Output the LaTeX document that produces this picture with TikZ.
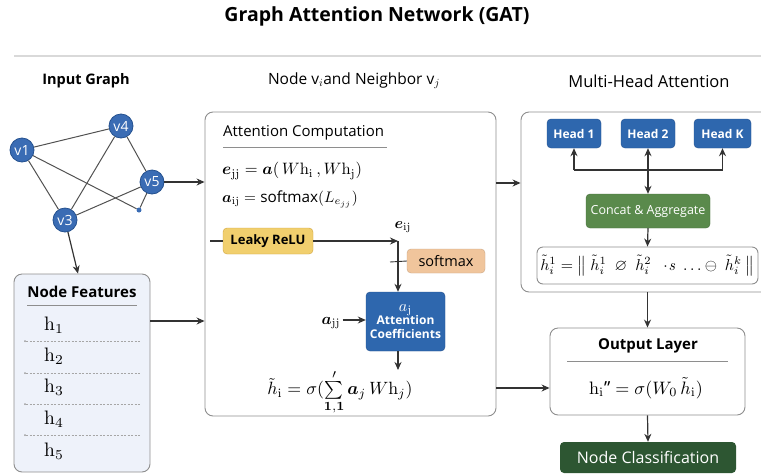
\documentclass[tikz,border=0pt]{standalone}
\usepackage{amsmath,amssymb}
\usepackage[no-math]{fontspec}
\setmainfont{Open Sans}
\usetikzlibrary{arrows.meta}

\definecolor{edge}{HTML}{333333}
\definecolor{frame}{HTML}{8E8E8E}
\definecolor{nodeblue}{HTML}{3A6CB4}
\definecolor{nodeborder}{HTML}{24518F}
\definecolor{headblue}{HTML}{2E67AE}
\definecolor{concatgreen}{HTML}{5A8A4C}
\definecolor{classgreen}{HTML}{2D5632}
\definecolor{leaky}{HTML}{F1CF6E}
\definecolor{leakyborder}{HTML}{D1A43C}
\definecolor{softfill}{HTML}{F0C59C}
\definecolor{featfill}{HTML}{EEF2FA}

% formulas are set at 10pt and enlarged as a whole
\newcommand{\bigmath}[2]{\scalebox{#1}{$#2$}}

\tikzset{
  arr/.style={draw=edge, line width=1.2pt, -{Stealth[length=8pt,width=7pt]}},
  wire/.style={draw=edge, line width=1.2pt},
  gedge/.style={draw=edge!85, line width=1pt},
  gnode/.style={circle, fill=nodeblue, draw=nodeborder, line width=0.8pt,
    minimum size=24pt, inner sep=0pt, text=white,
    font=\fontsize{14}{14}\selectfont},
  panel/.style={draw=frame, line width=0.9pt, rounded corners=8pt, fill=white},
  bluebox/.style={fill=headblue, draw=nodeborder, rounded corners=4pt,
    text=white, inner sep=0pt},
  header/.style={font=\fontsize{15.5}{17}\selectfont},
  mathtext/.style={font=\fontsize{10}{12}\selectfont, inner sep=0pt},
  feat/.style={font=\fontsize{10}{12}\selectfont, anchor=west, inner sep=0pt},
}

\begin{document}
\begin{tikzpicture}[x=1pt, y=-1pt]
\useasboundingbox (0,0) rectangle (761,475);
\clip (0,0) rectangle (761,475);

% title and rule
\node[font=\fontsize{19.5}{22}\selectfont\bfseries] (title) at (377,16) {Graph Attention Network (GAT)};
\draw[black!15, line width=1.6pt] (14,56) -- (761,56);

% column headers
\node[font=\fontsize{14.5}{16}\selectfont\bfseries] (hdrA) at (86,81) {Input Graph};
\node[header] (hdrB) at (354,81) {Node v$_{i}$and Neighbor v$_{j}$};
\node[header, font=\fontsize{16.5}{18}\selectfont] (hdrC) at (649,81) {Multi-Head Attention};

% ---------------- input graph ----------------
\node[gnode] (v1) at (22,150) {v1};
\node[gnode] (v4) at (121,126) {v4};
\node[gnode] (v5) at (152,182) {v5};
\node[gnode] (v3) at (65,220) {v3};
\node[circle, fill=nodeblue, inner sep=0pt, minimum size=5pt] (dot) at (139,210) {};
\draw[gedge] (v1) -- (v4);
\draw[gedge] (v1) -- (v3);
\draw[gedge] (v1) -- (dot);
\draw[gedge] (v4) -- (v3);
\draw[gedge] (v4) -- (v5);
\draw[gedge] (v5) -- (v3);
\draw[gedge] (v5) -- (dot);

% ---------------- node features ----------------
\node[panel, fill=featfill, minimum width=136pt, minimum height=198pt] (feat) at (82,373) {};
\node[font=\fontsize{15}{16}\selectfont\bfseries] (featT) at (82,292) {Node Features};
\draw[frame, line width=0.8pt] (27,305) -- (137,305);
\node[feat] (h1) at (44,325) {\bigmath{1.95}{\mathrm{h}_1}};
\node[feat] (h2) at (44,356) {\bigmath{1.95}{\mathrm{h}_2}};
\node[feat] (h3) at (44,387) {\bigmath{1.95}{\mathrm{h}_3}};
\node[feat] (h4) at (44,419) {\bigmath{1.95}{\mathrm{h}_4}};
\node[feat] (h5) at (44,451) {\bigmath{1.95}{\mathrm{h}_5}};
\foreach \yy in {341,373,404,435}{
  \fill[black!40] (25,\yy) circle (1pt);
  \draw[black!35, line width=0.6pt, dash pattern=on 2pt off 1.5pt] (26,\yy) -- (140,\yy);
}

\draw[arr] (v3) -- ([xshift=-4pt]feat.north);

% ---------------- attention computation ----------------
\node[panel, minimum width=291pt, minimum height=304pt] (mid) at (350.5,264) {};
\node[font=\fontsize{15}{17}\selectfont, anchor=west, inner sep=0pt] (attT) at (223,133) {Attention Computation};
\draw[frame, line width=0.9pt] (223,147) -- (387,147);
\node[mathtext, anchor=west] (eq1) at (222,171)
  {\bigmath{1.65}{\boldsymbol{e}_{\mathrm{jj}} = \boldsymbol{a}(\,W\mathrm{h}_{\mathrm{i}}\,, W\mathrm{h}_{\mathrm{j}})}};
\node[mathtext, anchor=west] (eq2) at (222,199)
  {\bigmath{1.53}{\boldsymbol{a}_{\mathrm{ij}} = \text{softmax}(L_{e_{jj}})}};

\node[fill=leaky, draw=leakyborder, rounded corners=4pt, minimum width=90pt, minimum height=26pt,
  inner sep=0pt, font=\fontsize{13}{15}\selectfont\bfseries] (relu) at (268,241) {Leaky ReLU};
\node[fill=softfill, draw=softfill!85!black, rounded corners=4pt, minimum width=78pt, minimum height=24pt,
  inner sep=0pt, font=\fontsize{14.5}{16}\selectfont] (soft) at (446,261) {softmax};
\node[bluebox, minimum width=79pt, minimum height=59pt, align=center,
  font=\fontsize{12}{14}\selectfont\bfseries] (coef) at (405.5,321.5)
  {\normalfont\fontsize{10}{12}\selectfont\bigmath{1.6}{a_{\mathrm{j}}}\\[-1pt]Attention\\Coefficients};

\coordinate (inL) at (210,241);
\coordinate (corner) at (398,241);
\coordinate (tick) at (390,262);
\draw[wire] (inL) -- (relu.west);
\draw[arr] (relu.east) -- (corner);
\draw[arr] (corner) -- (corner |- coef.north);
\draw[wire, line width=0.9pt] (tick) -- (soft.west);
\node[mathtext] (elab) at (403,227) {\bigmath{1.55}{\boldsymbol{e}_{\mathrm{ij}}}};

\node[mathtext] (alab) at (331,323) {\bigmath{1.6}{\boldsymbol{a}_{\mathrm{jj}}}};
\draw[arr] (alab.east) ++(2,-3) -- (coef.west |- 0,320);

\coordinate (cbot) at (398,351);
\draw[arr] (cbot) -- (398,370);
\node[mathtext] (eq3) at (340,392)
  {\bigmath{1.78}{\tilde{h}_{\mathrm{i}} = \sigma(\sum\limits_{\mathbf{1,1}}^{\prime} \boldsymbol{a}_{j}\, W\mathrm{h}_{j})}};

% ---------------- multi-head attention ----------------
\node[panel, minimum width=249pt, minimum height=180pt] (multi) at (645.5,202) {};
\node[bluebox, minimum width=54pt, minimum height=29pt, font=\fontsize{12}{14}\selectfont\bfseries] (head1) at (574,133.5) {Head 1};
\node[bluebox, minimum width=54pt, minimum height=29pt, font=\fontsize{12}{14}\selectfont\bfseries] (head2) at (648,133.5) {Head 2};
\node[bluebox, minimum width=57pt, minimum height=29pt, font=\fontsize{12}{14}\selectfont\bfseries] (headK) at (722.5,133.5) {Head K};
\node[fill=concatgreen, draw=concatgreen!80!black, rounded corners=4pt, minimum width=124pt, minimum height=34pt,
  inner sep=0pt, text=white, font=\fontsize{12.5}{14}\selectfont] (concat) at (648,211) {Concat \& Aggregate};
\node[panel, rounded corners=6pt, minimum width=221pt, minimum height=37pt, inner sep=0pt,
  font=\fontsize{10}{12}\selectfont] (fbox) at (647.5,265.5)
  {\bigmath{1.58}{\tilde{h}_i^1 = \big\|\ \tilde{h}_i^1\ \ \varnothing\ \ \tilde{h}_i^2\ \ \cdot\!\mathit{s}\ \ldots \ominus\ \tilde{h}_i^k\ \big\|}};

\coordinate (bus1) at (574,170);
\coordinate (bus2) at (648,170);
\coordinate (busK) at (722.5,170);
\draw[wire] (bus1) -- (busK);
\draw[arr] (bus1) -- (head1.south);
\draw[arr] (bus2) -- (head2.south);
\draw[arr] (busK) -- (headK.south);
\draw[arr] (bus2) -- (concat.north);
\draw[arr] (concat.south) -- (fbox.north);

% ---------------- output ----------------
\node[panel, minimum width=195pt, minimum height=87pt] (out) at (647.5,371.5) {};
\node[font=\fontsize{15}{16}\selectfont\bfseries] (outT) at (648,346) {Output Layer};
\draw[frame, line width=0.9pt] (567,361) -- (728,361);
\node[mathtext] (eq4) at (646,388)
  {\scalebox{1.8}{$\mathrm{h}_{\mathrm{i}}$"$\;=\sigma(W_0\,\tilde{h}_{\mathrm{i}})$}};
\node[fill=classgreen, rounded corners=4pt, minimum width=176pt, minimum height=31pt, inner sep=0pt,
  text=white, font=\fontsize{16}{17}\selectfont] (cls) at (648,457.5) {Node Classification};

% ---------------- flow between panels ----------------
\draw[arr] (v5) -- (v5 -| mid.west);
\draw[arr] ([yshift=52pt]feat.east) -- ([yshift=52pt]feat.east -| mid.west);
\draw[arr] ([yshift=81pt]mid.east) -- ([yshift=81pt]mid.east -| multi.west);
\draw[arr] ([yshift=-124pt]mid.east) -- ([yshift=-124pt]mid.east -| out.west);
\draw[arr] (out.north |- multi.south) -- (out.north);
\draw[arr] (out.south) -- (cls.north);
\end{tikzpicture}
\end{document}
